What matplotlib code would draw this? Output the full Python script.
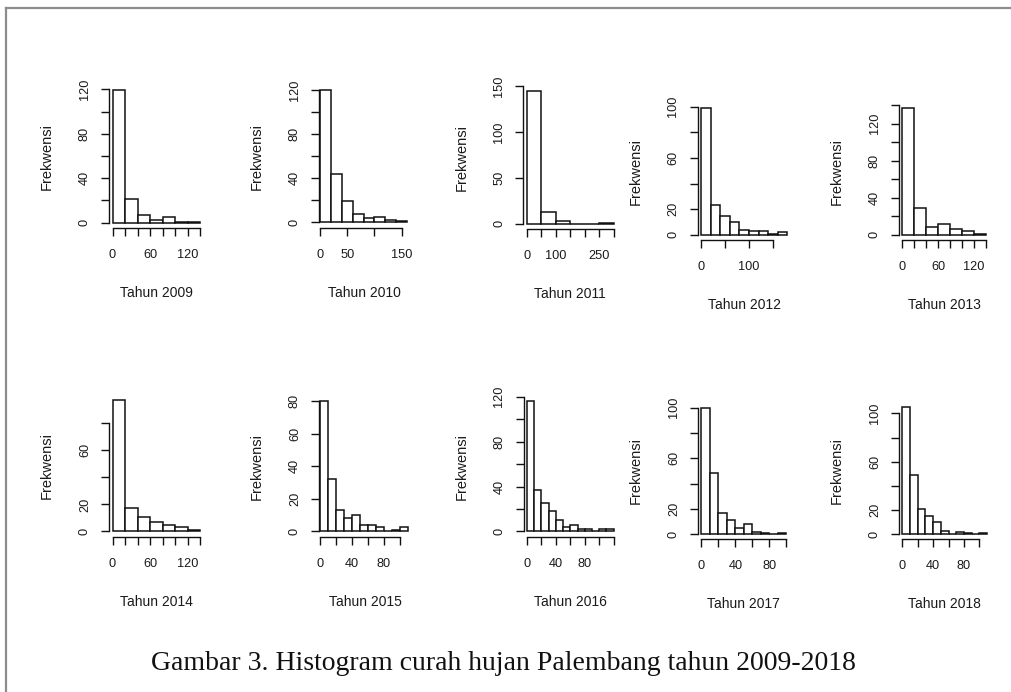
import matplotlib
matplotlib.use("Agg")
import matplotlib.pyplot as plt
from matplotlib.lines import Line2D
import numpy as np

W, H = 1011, 692

# ---------------- data ----------------
years = [2009, 2010, 2011, 2012, 2013, 2014, 2015, 2016, 2017, 2018]
bin_width = [20, 20, 50, 20, 20, 20, 10, 10, 10, 10]

counts_2009 = [119, 21, 7, 2, 5, 1, 1]
counts_2010 = [120, 44, 19, 8, 4, 5, 2, 1]
counts_2011 = [145, 13, 3, 0, 0, 1]
counts_2012 = [99, 23, 15, 10, 4, 3, 3, 1, 2]
counts_2013 = [137, 29, 9, 12, 6, 4, 1]
counts_2014 = [97, 17, 11, 7, 5, 3, 1]
counts_2015 = [80, 32, 13, 8, 10, 4, 4, 3, 0, 1, 3]
counts_2016 = [116, 37, 25, 18, 10, 4, 6, 2, 2, 0, 2, 2]
counts_2017 = [100, 48, 17, 11, 5, 8, 2, 1, 0, 1]
counts_2018 = [105, 49, 21, 15, 10, 3, 0, 2, 1, 0, 1]
counts = [counts_2009, counts_2010, counts_2011, counts_2012, counts_2013,
          counts_2014, counts_2015, counts_2016, counts_2017, counts_2018]

x_ticks = [list(range(0, 141, 20)), [0, 50, 100, 150], list(range(0, 301, 50)),
           [0, 50, 100, 150], list(range(0, 141, 20)), list(range(0, 141, 20)),
           list(range(0, 101, 20)), list(range(0, 121, 20)), list(range(0, 101, 20)),
           list(range(0, 101, 20))]
x_labels_shown = [[0, 60, 120], [0, 50, 150], [0, 100, 250], [0, 100], [0, 60, 120],
                  [0, 60, 120], [0, 40, 80], [0, 40, 80], [0, 40, 80], [0, 40, 80]]
y_ticks = [list(range(0, 121, 20)), list(range(0, 121, 20)), [0, 50, 100, 150],
           list(range(0, 101, 20)), list(range(0, 141, 20)), list(range(0, 81, 20)),
           list(range(0, 81, 20)), list(range(0, 121, 20)), list(range(0, 101, 20)),
           list(range(0, 101, 20))]
y_labels_shown = [[0, 40, 80, 120], [0, 40, 80, 120], [0, 50, 100, 150],
                  [0, 20, 60, 100], [0, 40, 80, 120], [0, 20, 60],
                  [0, 20, 40, 60, 80], [0, 40, 80, 120], [0, 20, 60, 100],
                  [0, 20, 60, 100]]

ylabel_text = "Frekwensi"
title_prefix = "Tahun"
caption = "Gambar 3. Histogram curah hujan Palembang tahun 2009-2018"

# ---------------- layout (pixels) ----------------
# left, top, width, bottom, left padding fraction
layout = [
    (109.0, 85.2, 94.8, 228.0, 0.04),
    (319.0, 84.8, 91.6, 227.7, 0.011),
    (523.3, 85.3, 94.0, 229.0, 0.04),
    (697.5, 102.9, 93.3, 240.0, 0.04),
    (899.0, 102.7, 90.5, 240.0, 0.04),
    (109.0, 395.0, 94.8, 536.7, 0.04),
    (319.0, 395.8, 92.5, 536.7, 0.011),
    (523.5, 396.0, 93.6, 536.7, 0.04),
    (698.0, 402.6, 91.8, 539.3, 0.04),
    (899.0, 402.2, 91.5, 539.3, 0.04),
]

TXT = "#1a1a1a"
plt.rcParams['font.family'] = ['Liberation Sans', 'DejaVu Sans']

fig = plt.figure(figsize=(W / 100, H / 100), dpi=100)
fig.patch.set_facecolor("white")

for i, yr in enumerate(years):
    left, top, width, bottom, padl = layout[i]
    ax = fig.add_axes([left / W, 1 - bottom / H, width / W, (bottom - top) / H])
    c = counts[i]
    bw = bin_width[i]
    edges = np.arange(len(c) + 1) * bw
    xr = edges[-1] - edges[0]
    ymax = max(c)
    ax.bar(edges[:-1], c, width=bw, align='edge', facecolor='white',
           edgecolor='#111111', linewidth=1.1)
    ax.set_xlim(edges[0] - padl * xr, edges[-1] + 0.04 * xr)
    ax.set_ylim(-0.04 * ymax, 1.04 * ymax)
    for s in ('top', 'right'):
        ax.spines[s].set_visible(False)
    ax.spines['left'].set_bounds(y_ticks[i][0], y_ticks[i][-1])
    ax.spines['bottom'].set_bounds(x_ticks[i][0], x_ticks[i][-1])
    for s in ('left', 'bottom'):
        ax.spines[s].set_linewidth(1.0)
        ax.spines[s].set_color('#111111')
    ax.set_xticks(x_ticks[i])
    ax.set_xticklabels([str(t) if t in x_labels_shown[i] else '' for t in x_ticks[i]])
    ax.set_yticks(y_ticks[i])
    ax.set_yticklabels([str(t) if t in y_labels_shown[i] else '' for t in y_ticks[i]],
                       rotation=90, va='center')
    ax.tick_params(axis='both', direction='out', length=6, width=1.0,
                   colors='#111111', labelcolor=TXT, labelsize=9.2)
    ax.tick_params(axis='x', pad=9)
    ax.tick_params(axis='y', pad=7)
    ax.patch.set_alpha(0)
    # axis titles
    cx = left + width / 2
    fig.text(cx / W, 1 - (bottom + 65) / H, f"{title_prefix} {yr}",
             ha='center', va='center', fontsize=10.0, color=TXT)
    cy = (top + bottom) / 2
    fig.text((left - 62) / W, 1 - cy / H, ylabel_text, rotation=90,
             ha='center', va='center', fontsize=10.5, color=TXT)

# document frame lines
fig.add_artist(Line2D([6 / W, 1.0], [1 - 8 / H, 1 - 8 / H], color='#8c8c8c',
                      linewidth=1.6, transform=fig.transFigure))
fig.add_artist(Line2D([6 / W, 6 / W], [0.0, 1 - 8 / H], color='#8c8c8c',
                      linewidth=1.6, transform=fig.transFigure))

fig.text(503 / W, 1 - 663 / H, caption, ha='center', va='center',
         fontsize=20, color='#111111', family=['Liberation Serif', 'DejaVu Serif'])

fig.savefig("out.png", dpi=100, facecolor='white')
